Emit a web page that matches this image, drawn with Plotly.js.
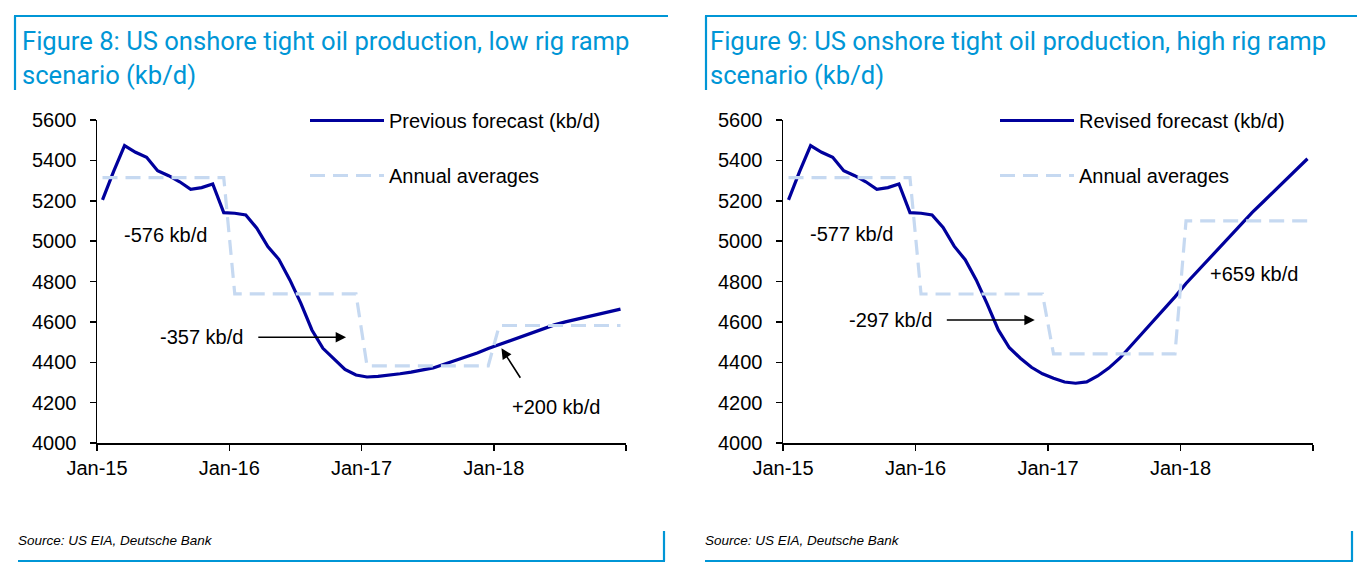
<!DOCTYPE html>
<html>
<head>
<meta charset="utf-8">
<script src="https://cdn.plot.ly/plotly-3.0.1.min.js"></script>
<style>
  html, body { margin: 0; padding: 0; background: #ffffff; }
  #chart { width: 1360px; height: 576px; }
</style>
</head>
<body>
<div id="chart"></div>
<script>
// ---------------- DATA ----------------
const yearLabels = ['Jan-15', 'Jan-16', 'Jan-17', 'Jan-18'];
const monthsPerYear = 12;

// Figure 8: previous forecast, low rig ramp scenario (kb/d), monthly Jan-15 .. Dec-18
const lowRigForecast = [
  5204, 5344, 5473, 5440, 5415, 5349, 5324, 5294, 5257, 5265, 5283, 5141,
  5138, 5130, 5064, 4973, 4910, 4808, 4692, 4560, 4469, 4415, 4365, 4337,
  4327, 4330, 4335, 4343, 4351, 4361, 4372, 4390, 4408, 4428, 4446, 4468,
  4488, 4505, 4527, 4547, 4567, 4585, 4600, 4613, 4625, 4637, 4650, 4663
];
const lowRigAnnualAvg = [5315, 4739, 4382, 4582];

// Figure 9: revised forecast, high rig ramp scenario (kb/d)
const highRigForecast = [
  5204, 5344, 5473, 5440, 5415, 5349, 5324, 5294, 5257, 5265, 5283, 5141,
  5138, 5130, 5068, 4975, 4908, 4808, 4688, 4560, 4472, 4420, 4375, 4343,
  4321, 4302, 4296, 4303, 4332, 4371, 4420, 4480, 4541, 4604, 4662, 4724,
  4790, 4849, 4910, 4970, 5029, 5086, 5142, 5195, 5248, 5301, 5354, 5408
];
const highRigAnnualAvg = [5315, 4738, 4441, 5100];

const lowRigChanges = ['-576 kb/d', '-357 kb/d', '+200 kb/d'];
const highRigChanges = ['-577 kb/d', '-297 kb/d', '+659 kb/d'];

const titles = [
  ['Figure 8: US onshore tight oil production, low rig ramp', 'scenario (kb/d)'],
  ['Figure 9: US onshore tight oil production, high rig ramp', 'scenario (kb/d)']
];
const legendNames = [
  ['Previous forecast (kb/d)', 'Annual averages'],
  ['Revised forecast (kb/d)', 'Annual averages']
];
const sourceText = 'Source: US EIA, Deutsche Bank';

// ---------------- HELPERS ----------------
const W = 1360, H = 576;
const px = v => v / W;
const py = v => 1 - v / H;
// month categories centred inside their slot (Excel-style category axis)
const monthPos = arr => arr.map((_, i) => i + 0.5);
const expandAnnual = avgs => avgs.flatMap(v => Array(monthsPerYear).fill(v));

const NAVY = '#00009c';
const PALE = '#c6d9f1';
const BLUE = '#0096d6';
const TXT = 'Liberation Sans, Arial, sans-serif';
const TITLEFONT = 'Roboto, Liberation Sans, Arial, sans-serif';

function mkTraces(forecast, avgs, names, xa, ya, leg) {
  return [
    {
      type: 'scatter', mode: 'lines', name: names[0],
      x: monthPos(forecast), y: forecast, xaxis: xa, yaxis: ya,
      line: { color: NAVY, width: 3.2 }, legend: leg, legendgroup: leg + 'a'
    },
    {
      type: 'scatter', mode: 'lines', name: names[1],
      x: monthPos(expandAnnual(avgs)), y: expandAnnual(avgs), xaxis: xa, yaxis: ya,
      line: { color: PALE, width: 3.2, dash: '15px,8px' }, legend: leg, legendgroup: leg + 'b'
    }
  ];
}

const traces = [
  ...mkTraces(lowRigForecast, lowRigAnnualAvg, legendNames[0], 'x', 'y', 'legend'),
  ...mkTraces(highRigForecast, highRigAnnualAvg, legendNames[1], 'x2', 'y2', 'legend2')
];

function xAxis(domain, anchor) {
  return {
    domain: domain, anchor: anchor, range: [0, 48],
    tickvals: [0, 12, 24, 36, 48], ticktext: yearLabels.concat(['']),
    ticks: 'outside', ticklen: 6, tickwidth: 1.5, tickcolor: '#000',
    showline: true, linecolor: '#000', linewidth: 1.5,
    showgrid: false, zeroline: false, ticklabelshift: 5.5,
    tickfont: { family: TXT, size: 20, color: '#000' }, fixedrange: true
  };
}
function yAxis(domain, anchor) {
  return {
    domain: domain, anchor: anchor, range: [4000, 5600],
    tick0: 4000, dtick: 200,
    ticks: 'outside', ticklen: 6, tickwidth: 1.5, tickcolor: '#000',
    showline: true, linecolor: '#000', linewidth: 1.5,
    showgrid: false, zeroline: false, ticklabelstandoff: 9,
    tickfont: { family: TXT, size: 20, color: '#000' }, fixedrange: true
  };
}

function txt(text, x, y, xr, yr) {
  return { text: text, x: x, y: y, xref: xr, yref: yr, showarrow: false,
    font: { family: TXT, size: 20, color: '#000' }, xanchor: 'center', yanchor: 'middle' };
}
function arrow(x, y, ax, ay, xr, yr) {
  return { text: '', x: x, y: y, ax: ax, ay: ay, xref: xr, yref: yr, axref: xr, ayref: yr,
    showarrow: true, arrowhead: 2, arrowsize: 1.3, arrowwidth: 1.6, arrowcolor: '#000', standoff: 0 };
}
function paperTxt(text, x, y, size, color, family) {
  return { text: text, x: px(x), y: py(y), xref: 'paper', yref: 'paper', showarrow: false,
    xanchor: 'left', yanchor: 'middle', font: { family: family, size: size, color: color } };
}

const annotations = [
  paperTxt(titles[0][0], 20, 41, 25.6, BLUE, TITLEFONT),
  paperTxt(titles[0][1], 20, 75, 25.6, BLUE, TITLEFONT),
  paperTxt(titles[1][0], 708, 41, 25.6, BLUE, TITLEFONT),
  paperTxt(titles[1][1], 708, 75, 25.6, BLUE, TITLEFONT),
  paperTxt('<i>' + sourceText + '</i>', 16, 540, 13.5, '#000', TXT),
  paperTxt('<i>' + sourceText + '</i>', 703, 540, 13.5, '#000', TXT),
  txt(lowRigChanges[0], 6.2, 5030, 'x', 'y'),
  txt(lowRigChanges[1], 9.45, 4524, 'x', 'y'),
  arrow(22.6, 4524, 14.5, 4524, 'x', 'y'),
  txt(lowRigChanges[2], 41.65, 4180, 'x', 'y'),
  arrow(36.7, 4469, 38.5, 4316, 'x', 'y'),
  txt(highRigChanges[0], 6.22, 5034, 'x2', 'y2'),
  txt(highRigChanges[1], 9.7, 4609, 'x2', 'y2'),
  arrow(22.8, 4609, 14.7, 4609, 'x2', 'y2'),
  txt(highRigChanges[2], 42.7, 4836, 'x2', 'y2')
];

function seg(x0, y0, x1, y1) {
  return { type: 'line', xref: 'paper', yref: 'paper', x0: px(x0), y0: py(y0), x1: px(x1), y1: py(y1),
    line: { color: BLUE, width: 2.2 } };
}
const shapes = [
  seg(14, 16, 668, 16), seg(15, 16, 15, 90), seg(18, 561, 665, 561), seg(664, 531, 664, 561),
  seg(705, 16, 1357, 16), seg(706, 16, 706, 90), seg(705, 561, 1353, 561), seg(1352, 531, 1352, 561)
];

function legendCfg(x) {
  return {
    x: px(x), y: py(101), xanchor: 'left', yanchor: 'top', xref: 'paper', yref: 'paper',
    bgcolor: 'rgba(0,0,0,0)', borderwidth: 0, traceorder: 'grouped', tracegroupgap: 26,
    itemwidth: 74, font: { family: TXT, size: 20, color: '#000' }, itemclick: false, itemdoubleclick: false
  };
}

const layout = {
  width: W, height: H,
  margin: { l: 0, r: 0, t: 0, b: 0 },
  paper_bgcolor: '#ffffff', plot_bgcolor: '#ffffff',
  showlegend: true,
  xaxis: xAxis([px(97), px(626)], 'y'),
  yaxis: yAxis([py(443), py(120)], 'x'),
  xaxis2: xAxis([px(783), px(1313)], 'y2'),
  yaxis2: yAxis([py(443), py(120)], 'x2'),
  legend: legendCfg(305),
  legend2: legendCfg(995),
  annotations: annotations,
  shapes: shapes,
  hovermode: false
};

Plotly.newPlot('chart', traces, layout, { displayModeBar: false, staticPlot: true });
</script>
</body>
</html>
